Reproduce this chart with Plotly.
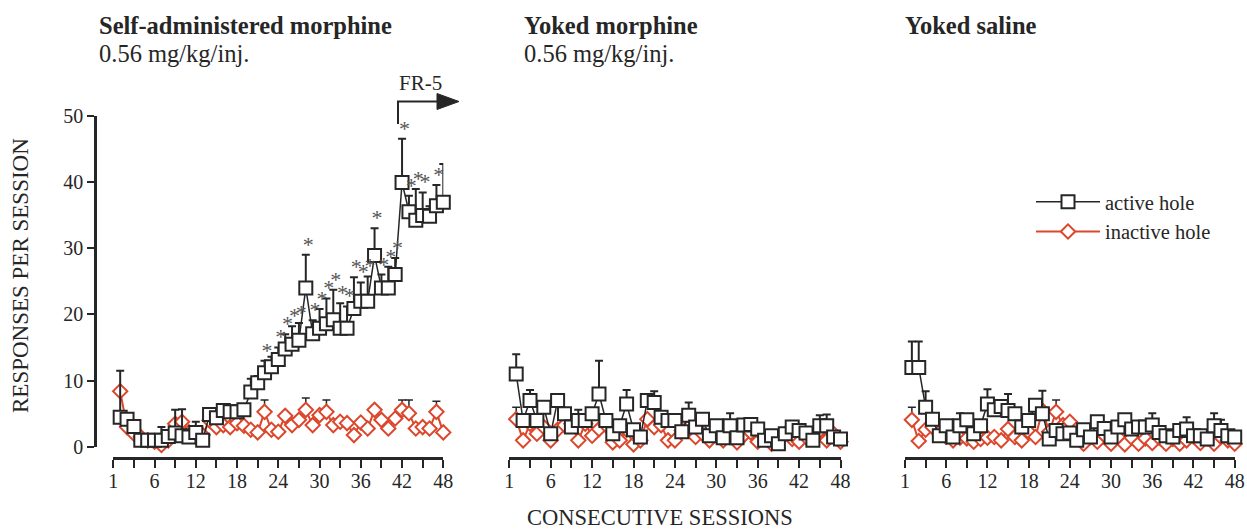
import plotly.graph_objects as go

W, H = 1247, 531
FONT = "Liberation Serif, Times New Roman, serif"
BLACK = "#262626"
RED = "#dc472c"
STAR = "#555555"

sessions = list(range(1, 49))

# ---- Self-administered morphine ----
sa_active = [4.5, 4.2, 3.1, 1.0, 1.0, 1.0, 1.0, 1.6, 2.1, 1.7, 1.5, 2.2, 1.0, 4.9, 4.4, 5.5,
             5.3, 5.3, 5.6, 8.3, 9.7, 11.2, 12.1, 13.2, 14.8, 15.5, 16.1, 24.0, 17.1, 17.9,
             18.6, 19.2, 17.9, 17.9, 20.9, 22.0, 22.0, 28.9, 24.0, 24.0, 26.0, 39.9, 35.5,
             34.2, 34.9, 34.8, 36.4, 36.9]
sa_active_err = [7.0, 0, 0, 0, 0, 0, 2.0, 0, 3.5, 4.0, 0, 1.6, 0, 0, 0, 0,
                 0, 0, 0, 2.0, 1.0, 1.8, 1.5, 1.8, 2.2, 2.7, 2.6, 5.0, 2.0, 2.9,
                 3.8, 4.5, 3.8, 3.3, 4.7, 2.8, 3.7, 4.1, 2.0, 3.2, 2.5, 6.6, 2.4,
                 4.7, 3.5, 1.5, 3.1, 5.8]
sa_inactive = [8.4, 3.0, 2.0, 1.5, 1.0, 0.8, 0.3, 1.0, 3.5, 3.8, 2.2, 1.5, 1.8, 4.0, 3.0, 3.3,
               3.0, 3.6, 3.2, 2.6, 2.2, 5.3, 2.6, 2.3, 4.7, 3.3, 4.1, 5.6, 3.3, 4.8,
               5.3, 3.3, 3.8, 3.6, 1.8, 3.7, 2.8, 5.6, 4.1, 2.8, 4.3, 5.6, 5.1,
               2.8, 3.0, 2.8, 5.3, 2.2]
sa_inactive_err = [0, 0, 0, 0, 0, 0, 0, 0, 0, 0, 0, 0, 0, 0, 0, 0,
                   0, 0, 0, 0, 0, 1.8, 0, 0, 0, 0, 0, 1.8, 0, 0,
                   1.8, 0, 0, 0, 0, 0, 0, 0, 0, 0, 0, 1.5, 2.0,
                   0, 0, 0, 1.6, 0]
star_sessions = [22, 24, 25, 26, 27, 28, 29, 30, 31, 32, 33, 34, 35, 36, 37, 38, 39, 40, 41,
                 42, 43, 44, 45, 47, 48]

# ---- Yoked morphine ----
ym_active = [11.0, 4.0, 7.0, 4.0, 6.0, 2.0, 7.0, 5.0, 3.0, 4.0, 4.0, 5.0, 8.0, 4.0, 2.0, 3.2,
             6.5, 2.6, 1.5, 7.0, 6.7, 4.5, 4.0, 4.0, 2.3, 4.8, 3.0, 4.2, 1.7, 3.2,
             1.4, 3.2, 1.4, 3.3, 3.4, 2.7, 1.0, 1.7, 0.5, 2.0, 3.0, 2.5, 2.1,
             1.0, 3.2, 3.2, 1.5, 1.2]
ym_active_err = [3.0, 0, 1.6, 0, 0, 0, 0, 0, 0, 1.6, 0, 0, 5.0, 0, 0, 0,
                 2.1, 0, 0, 0, 1.7, 0, 0, 0, 0, 1.9, 0, 0, 0, 0,
                 0, 1.9, 0, 0, 0, 0, 0, 0, 0, 0, 0, 0, 0,
                 0, 1.6, 1.7, 0, 0]
ym_inactive = [4.2, 1.0, 3.5, 2.0, 3.0, 1.0, 2.6, 3.3, 3.5, 1.0, 3.5, 1.7, 2.7, 3.3, 0.7, 1.0,
               2.6, 0.4, 1.0, 4.2, 3.0, 3.3, 1.0, 1.0, 2.5, 3.0, 1.5, 2.0, 1.0, 2.5,
               1.0, 2.0, 0.7, 1.8, 2.2, 0.8, 1.5, 0.5, 1.5, 2.0, 1.2, 0.8, 1.5,
               2.0, 2.5, 1.0, 2.0, 0.8]
ym_inactive_err = [1.8] + [0] * 47

# ---- Yoked saline ----
ys_active = [12.0, 12.0, 6.0, 4.2, 1.7, 3.2, 1.5, 3.2, 4.1, 2.0, 3.2, 6.5, 5.6, 6.1, 5.5, 5.0,
             3.0, 4.0, 6.3, 5.0, 1.2, 2.5, 2.0, 2.1, 1.0, 2.6, 1.5, 3.8, 2.8, 1.5,
             3.0, 4.1, 2.7, 3.0, 3.0, 3.3, 2.2, 1.7, 1.5, 2.5, 2.7, 1.7, 1.7,
             1.2, 3.2, 2.5, 1.7, 1.5]
ys_active_err = [3.9, 3.9, 2.4, 0, 0, 0, 0, 1.9, 0, 0, 0, 2.2, 0, 0, 2.5, 0,
                 0, 0, 0, 3.5, 0, 0, 0, 0, 0, 0, 0, 0, 0, 0,
                 0, 0, 0, 0, 0, 1.8, 0, 0, 0, 0, 1.8, 0, 0,
                 0, 1.9, 1.6, 0, 0]
ys_inactive = [4.1, 0.9, 2.6, 3.0, 2.2, 1.5, 1.0, 1.4, 1.3, 0.8, 1.2, 1.4, 1.5, 1.0, 2.7, 1.5,
               1.0, 2.3, 1.5, 5.5, 2.3, 5.3, 3.3, 3.8, 2.0, 0.5, 1.5, 0.8, 1.8, 0.5,
               1.5, 0.4, 1.4, 0.5, 1.3, 0.6, 1.4, 0.5, 1.2, 0.5, 1.0, 1.6, 0.6,
               1.3, 0.5, 1.5, 1.0, 0.5]
ys_inactive_err = [1.9] + [0] * 20 + [1.8] + [0] * 26

tick_vals = list(range(0, 49, 3))
tick_text = ["1" if v == 0 else (str(v) if v % 6 == 0 else "") for v in tick_vals]

panel_titles = ["Self-administered morphine", "Yoked morphine", "Yoked saline"]
panel_doses = ["0.56 mg/kg/inj.", "0.56 mg/kg/inj.", ""]


def px_x(p):
    return p / W


def px_y(p):
    return 1 - p / H


fig = go.Figure()

panels = [
    ("x", "y", sa_active, sa_active_err, sa_inactive, sa_inactive_err, True),
    ("x2", "y2", ym_active, ym_active_err, ym_inactive, ym_inactive_err, False),
    ("x3", "y3", ys_active, ys_active_err, ys_inactive, ys_inactive_err, False),
]

for xa, ya, act, act_err, ina, ina_err, show in panels:
    fig.add_trace(go.Scatter(
        x=sessions, y=ina, xaxis=xa, yaxis=ya, mode="lines+markers",
        name="inactive hole", showlegend=show, legendrank=2, cliponaxis=False,
        line=dict(color=RED, width=2),
        marker=dict(symbol="diamond", size=11, color="white", line=dict(color=RED, width=2)),
        error_y=dict(type="data", symmetric=False, array=ina_err, arrayminus=[0] * len(ina_err),
                     color=BLACK, thickness=1.5, width=4),
        hoverinfo="skip"))
    fig.add_trace(go.Scatter(
        x=sessions, y=act, xaxis=xa, yaxis=ya, mode="lines+markers",
        name="active hole", showlegend=show, legendrank=1, cliponaxis=False,
        line=dict(color=BLACK, width=1.5),
        marker=dict(symbol="square", size=13, color="white", line=dict(color=BLACK, width=2)),
        error_y=dict(type="data", symmetric=False, array=act_err, arrayminus=[0] * len(act_err),
                     color=BLACK, thickness=2, width=4),
        hoverinfo="skip"))

# significance stars
star_x = [s + 0.35 for s in star_sessions]
star_y = [sa_active[s - 1] + sa_active_err[s - 1] + 1.3 for s in star_sessions]
fig.add_trace(go.Scatter(
    x=star_x, y=star_y, xaxis="x", yaxis="y", mode="text", text=["*"] * len(star_x),
    textfont=dict(family=FONT, size=22, color=STAR), showlegend=False,
    cliponaxis=False, hoverinfo="skip"))

# axes layout
x_domains = [(113.3, 443.3), (509.3, 840.5), (905.0, 1234.7)]
y_dom = [px_y(447), px_y(115.5)]
x_pos = px_y(458)

common_x = dict(range=[0, 48], anchor="free", position=x_pos, showline=True, linewidth=2.5,
                linecolor=BLACK, ticks="outside", ticklen=8, tickwidth=1.5, tickcolor=BLACK,
                tickvals=tick_vals, ticktext=tick_text, showgrid=False, zeroline=False,
                automargin=False, ticklabelstandoff=-4,
                tickfont=dict(family=FONT, size=20, color=BLACK))

layout = dict(
    width=W, height=H, margin=dict(l=0, r=0, t=0, b=0, pad=0, autoexpand=False), autosize=False,
    paper_bgcolor="white", plot_bgcolor="white",
    showlegend=True,
    legend=dict(x=px_x(1031), y=px_y(182), xanchor="left", yanchor="top",
                font=dict(family=FONT, size=20.5, color=BLACK), itemwidth=64,
                bgcolor="rgba(0,0,0,0)", tracegroupgap=6),
)
for i, (d0, d1) in enumerate(x_domains):
    key = "xaxis" if i == 0 else f"xaxis{i + 1}"
    layout[key] = dict(common_x, domain=[px_x(d0), px_x(d1)])
layout["yaxis"] = dict(range=[0, 50], domain=y_dom, anchor="free", position=px_x(95),
                       showline=True, linewidth=2.5, linecolor=BLACK, ticks="outside",
                       ticklen=7, tickwidth=1.5, tickcolor=BLACK, tickvals=[0, 10, 20, 30, 40, 50],
                       showgrid=False, zeroline=False, automargin=False,
                       tickfont=dict(family=FONT, size=20, color=BLACK))
layout["yaxis2"] = dict(range=[0, 50], domain=y_dom, anchor="x2", visible=False, automargin=False)
layout["yaxis3"] = dict(range=[0, 50], domain=y_dom, anchor="x3", visible=False, automargin=False)
fig.update_layout(**layout)

# panel titles
title_x = [97, 522, 903]
for tx, t, d in zip(title_x, panel_titles, panel_doses):
    fig.add_annotation(x=px_x(tx), y=px_y(26), xref="paper", yref="paper", xanchor="left",
                       yanchor="middle", text=f"<b>{t}</b>", showarrow=False,
                       font=dict(family=FONT, size=24.5, color=BLACK))
    if d:
        fig.add_annotation(x=px_x(tx), y=px_y(54), xref="paper", yref="paper", xanchor="left",
                           yanchor="middle", text=d, showarrow=False,
                           font=dict(family=FONT, size=24.5, color=BLACK))

# axis titles
fig.add_annotation(x=px_x(20), y=px_y(276), xref="paper", yref="paper", text="RESPONSES PER SESSION",
                   textangle=-90, showarrow=False, xanchor="center", yanchor="middle",
                   font=dict(family=FONT, size=23, color=BLACK))
fig.add_annotation(x=px_x(660), y=px_y(517), xref="paper", yref="paper", text="CONSECUTIVE SESSIONS",
                   showarrow=False, xanchor="center", yanchor="middle",
                   font=dict(family=FONT, size=22.5, color=BLACK))

# FR-5 marker
fig.add_annotation(x=px_x(420), y=px_y(83), xref="paper", yref="paper", text="FR-5",
                   showarrow=False, xanchor="center", yanchor="middle",
                   font=dict(family=FONT, size=21, color=BLACK))
fig.add_shape(type="path", xref="paper", yref="paper",
              path=f"M {px_x(398)} {px_y(124)} L {px_x(398)} {px_y(101.5)} L {px_x(440)} {px_y(101.5)}",
              line=dict(color=BLACK, width=2))
fig.add_shape(type="path", xref="paper", yref="paper",
              path=f"M {px_x(437)} {px_y(93.5)} L {px_x(459)} {px_y(101.5)} L {px_x(437)} {px_y(109.5)} Z",
              line=dict(color=BLACK, width=1), fillcolor=BLACK)

fig.write_html("out.html")
